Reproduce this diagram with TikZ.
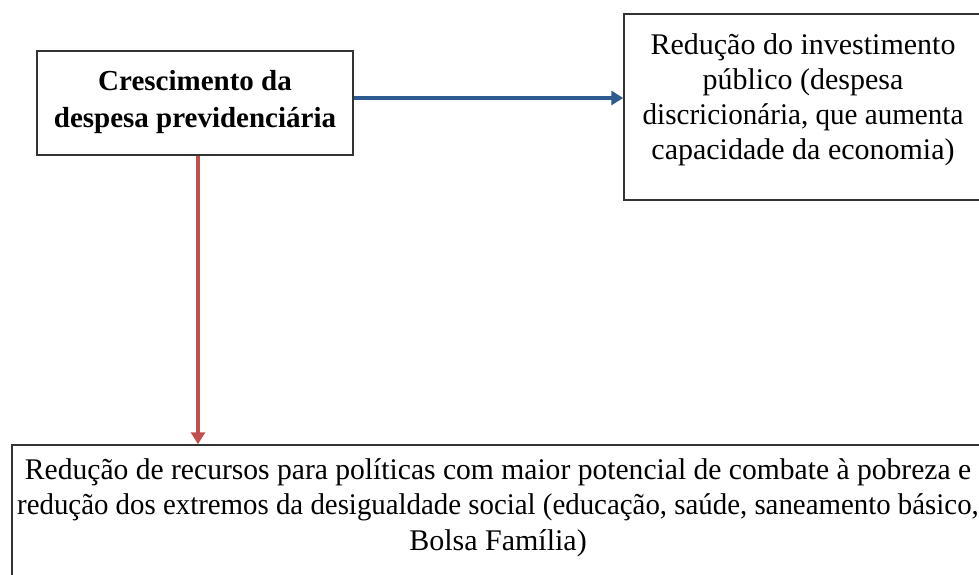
\documentclass[tikz,border=0pt]{standalone}
\usepackage{fontspec}
\setmainfont{Liberation Serif}
\usetikzlibrary{arrows.meta}
\definecolor{boxline}{HTML}{333333}
\definecolor{bluearrow}{HTML}{2E5B8F}
\definecolor{redarrow}{HTML}{C0504D}
\tikzset{
  boxnode/.style={draw=boxline, line width=1.5pt, rectangle, inner sep=0pt},
  txt/.style={align=center, inner sep=0pt, text=black},
  arrowline/.style={line width=4pt, -{Triangle[length=12pt,width=14pt]}},
}
\begin{document}
\begin{tikzpicture}[x=1pt,y=-1pt]
\useasboundingbox (0,0) rectangle (979,575);
\clip (0,0) rectangle (979,575);
\fill[white] (0,0) rectangle (979,575);
% box 1
\node[boxnode, minimum width=316pt, minimum height=104pt] (b1) at (195,103) {};
\node[txt, font=\fontsize{29}{37}\selectfont\bfseries] (t1) at (195,102) {Crescimento da\\despesa previdenciária};
% box 2
\node[boxnode, minimum width=360pt, minimum height=186pt] (b2) at (804,107) {};
\node[txt, font=\fontsize{30}{35}\selectfont, anchor=north] (t2) at (803,33) {Redução do investimento\\público (despesa\\\scalebox{0.97}[1]{discricionária, que aumenta}\\capacidade da economia)};
% box 3
\node[boxnode, minimum width=980pt, minimum height=160pt] (b3) at (502,525) {};
\node[txt, font=\fontsize{30}{35.5}\selectfont, anchor=north] (t3) at (498,458) {\scalebox{0.986}[1]{Redução de recursos para políticas com maior potencial de combate à pobreza e}\\\scalebox{0.962}[1]{redução dos extremos da desigualdade social (educação, saúde, saneamento básico,}\\Bolsa Família)};
% arrows
\draw[arrowline, draw=bluearrow] ([yshift=5pt]b1.east) -- ([yshift=5pt]b1.east -| b2.west);
\draw[arrowline, draw=redarrow] ([xshift=3pt]b1.south) -- ([xshift=3pt]b1.south |- b3.north);
\end{tikzpicture}
\end{document}
